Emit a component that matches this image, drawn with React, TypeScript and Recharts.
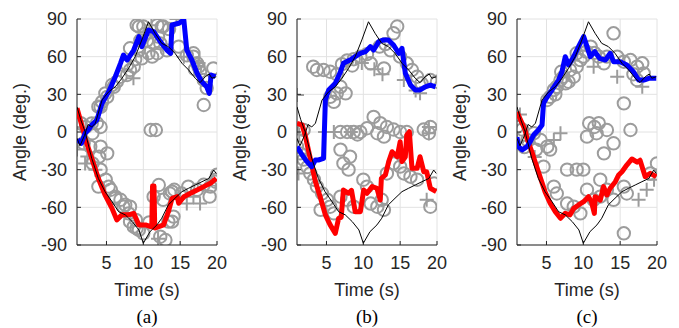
import React from 'react';
import { ComposedChart, Line, Scatter, XAxis, YAxis, CartesianGrid } from 'recharts';

// shared reference (thin black) curves, [time, angle]
const truthUpper = [
  [1, -5], [1.4, -11], [2.0, -3], [2.5, 6], [3.0, 4], [3.5, 7], [4.4, 25.5], [5.3, 32], [6.2, 36],
  [7.1, 42.8], [8, 50.7], [8.9, 60], [9.8, 73.3], [10.7, 87.8], [11.6, 78.6], [12.5, 70.6],
  [13.4, 68], [14.3, 62.7], [15.25, 54.7], [16.15, 49.4], [17.05, 42.8], [17.7, 39.3],
  [18.4, 44], [18.95, 46.2], [19.3, 42.8], [19.9, 44],
];
const truthLower = [
  [1, 20], [1.5, 10], [2.1, 0.2], [3, -21], [3.9, -37], [4.8, -47.5], [5.75, -55.5], [6.65, -63.5],
  [7.55, -66], [8.5, -71.4], [9.4, -78], [10, -88.6], [10.9, -79.4], [11.85, -74], [12.5, -68.7],
  [13.4, -58], [14.3, -52.8], [15.25, -47.5], [16.15, -44.8], [17.05, -42.2], [17.95, -39.6],
  [18.9, -37], [19.55, -30.3], [19.9, -33],
];

// panel (a)
const blueA = [
  [1.1, -6], [1.6, -9], [2.1, -1], [2.7, 3], [3.0, 5.6], [3.7, 9.6], [4.4, 22.9], [5.3, 32], [6.2, 44],
  [6.9, 54.7], [7.3, 61.3], [7.8, 57.3], [8.7, 65.3], [9.4, 76], [9.8, 68], [10.7, 81.2], [11.4, 80],
  [12.3, 72], [13.2, 65.3], [13.7, 62.7], [13.9, 85.2], [14.8, 86.6], [15.5, 89.2], [15.9, 65.3],
  [16.6, 57.3], [17.3, 46.8], [17.95, 40], [18.6, 36], [18.95, 30.8], [19.2, 45.4], [19.8, 44],
];
const redA = [
  [1, 19], [1.9, 0.2], [2.1, -5], [3, -21], [3.9, -37], [4.8, -50], [5.75, -60.8], [6.4, -70],
  [7.1, -66], [8, -66], [8.7, -64.8], [9.4, -74], [10.3, -74], [11.15, -75.5], [11.25, -43],
  [11.45, -43], [11.55, -76.5], [12.75, -74], [13.4, -63.5], [13.9, -52.8], [14.6, -51.5],
  [14.8, -56.8], [15.5, -51.5], [16.4, -48.8], [17.3, -46.2], [18.2, -43.5], [19.1, -40.9], [19.9, -36.9],
];
const circlesA = [
  [9.1, 85], [10, 84], [11.9, 85], [12.7, 84], [13.5, 82], [9.6, 73], [10.5, 73], [11.4, 70.6],
  [12.3, 70.6], [9.4, 65], [10.7, 62.7], [11.9, 62.7], [13.2, 65], [15.9, 61], [16.8, 60], [17.3, 54.7],
  [17.7, 48], [18.2, 41.4], [18.6, 35], [18.2, 21.5], [19.5, 50.7], [8.7, 52], [8.2, 49.4], [7.8, 45.4],
  [6.9, 44], [6.4, 40], [6, 36], [5.1, 28], [4.4, 24], [4.2, 20], [8.9, 58], [10.2, 78], [12, 76],
  [14.8, 68], [17, 50], [9.4, 83.9], [12.5, 83.9], [8.2, 66.7], [7.8, 53.4], [9.8, 58.7], [11.2, 60],
  [16.8, 62.7], [17.5, 52], [5.75, 37.4], [4.85, 30.8], [3.9, 20.2], [3, 6.9],
  [11, 1.6], [11.7, 1.6],
  [1, -1], [1.5, 7], [2.2, 4], [3.1, -1], [3.7, 7], [4.2, 4], [1.9, -9], [2.8, -11.7], [4.2, -11.7],
  [5.1, -17], [4, -19.6], [3.1, -25], [4.2, -30], [4.9, -38], [5.6, -46], [6.2, -51.5], [6.9, -54],
  [7.3, -59.5], [8.2, -59.5], [8, -64.8], [8.7, -75.4], [9.4, -78], [10, -80.7], [11.4, -51.5],
  [12.7, -54], [13.6, -49], [14.2, -46], [15.2, -49], [16.1, -43.5], [17.3, -46], [18.2, -42],
  [19.1, -43.5], [19.8, -38], [20, -34], [19, -51.5], [12.3, -83.4], [13, -86], [14.1, -67.4],
  [13.4, -71.4], [9, -70], [10.8, -72], [3.9, -43.5], [5.3, -43.5], [6.2, -52.8], [7.55, -58],
  [8.2, -71.4], [9.1, -76.7], [12.1, -42.2], [13.9, -47.5], [13.9, -71.4], [19.8, -39.6],
];
const plusesA = [
  [14.5, 90], [11.1, 85], [8.66, 42.8], [15.5, 60], [17.5, 55], [1, -14], [2.4, -19.6], [2.1, -25],
  [15.9, -57], [16.8, -51.5], [17.7, -57], [12, -85], [15, -51.5], [3.5, -30],
];

// panel (b)
const blueB = [
  [1, -11.7], [1.7, -18.3], [2.35, -23.6], [3, -27.6], [3.5, -22.3], [3.9, -22.3], [4.6, -21],
  [4.85, 25.5], [5.3, 33.5], [6.2, 38.8], [6.9, 48], [7.3, 54.7], [8.2, 57.3], [8.9, 60], [9.6, 62.7],
  [10.3, 64], [10.95, 68], [11.4, 65.3], [12.1, 72], [12.75, 73.3], [13.4, 73.3], [14.1, 69.3],
  [14.8, 62.7], [15.25, 66.6], [15.7, 46.8], [16.4, 37.4], [17.05, 33.5], [17.7, 33.5], [18.4, 36],
  [19.1, 37.4], [19.8, 36],
];
const redB = [
  [1, 6.9], [1.7, 5.6], [2.1, -2.4], [2.8, -21], [3.5, -39.6], [4.2, -52.8], [4.85, -66], [5.5, -74],
  [6.2, -80.7], [6.65, -68.7], [7.0, -68], [7.3, -46.2], [8, -48.8], [8.4, -46.5], [8.9, -63.5],
  [9.6, -63.5], [10.05, -46.2], [10.5, -48.8], [11.2, -43.5], [11.85, -44.8], [12.3, -54.2],
  [12.45, -36.9], [13, -34.2], [13.45, -23.6], [13.9, -15.7], [14.6, -19.7], [15, -7.7],
  [15.25, -23.6], [15.7, -19.7], [15.9, -2.4], [16.25, 0.2], [16.6, -28.9], [17.3, -28.9],
  [17.7, -19.7], [18.2, -31.6], [18.6, -31.6], [19.1, -44.8], [19.9, -47.5],
];
const circlesB = [
  [3.7, 49.4], [4.6, 49.4], [5.5, 48], [3.2, 52], [6.4, 46], [7.1, 54], [7.8, 57], [8.7, 58], [9.6, 60],
  [10.5, 62], [6.9, 36], [7.6, 30.8], [6.4, 30.8], [5.5, 28], [6, 24], [8.5, 53], [12.8, 50.7],
  [11, 54.7], [14.6, 84], [14.1, 78.6], [13.7, 65], [15, 60], [15.9, 54.7], [16.6, 49.4], [17.3, 44],
  [17.9, 38.8], [19.1, 41.4], [20, 40], [12.2, 68], [13, 70],
  [1.9, 1.6], [6.9, 0], [7.8, 0], [8.7, 0], [9.6, 0], [10.5, 3], [11.4, 12], [12.3, 7], [13.2, 4],
  [14.1, 2], [15, 0], [15.9, 0], [18.2, 2], [19.1, 4], [18.9, -1], [11.9, -1], [12.8, -3.7], [9.2, -2],
  [1, -11.7], [1.45, -17], [1.9, -22], [2.4, -28], [2.8, -33], [3.3, -38], [3.7, -43.5], [4.4, -49],
  [5.1, -54], [4.2, -62], [5.5, -59.5], [6, -64.8], [6.9, -51.5], [7.8, -54], [8.7, -59.5], [7.3, -25],
  [8, -30], [8.2, -19.6], [6.9, -14], [10, -38], [10.5, -43.5], [11, -57], [11.9, -59.5], [12.8, -62],
  [12.5, -54], [13.2, -33], [14.1, -25], [15, -27.6], [15.5, -33], [16.4, -35.6], [17.3, -38],
  [19.1, -59.5], [19.6, -41],
];
const plusesB = [
  [1, 29.5], [15.5, 41.4], [17.7, 30.8], [17.1, 33], [11.5, 50], [12.6, 46], [9.8, 55], [4.8, 0],
  [6, 0], [8.3, 0], [18.9, 4], [18.9, -1], [1.2, -33], [18.6, -54], [1.3, -2],
];

// panel (c)
const blueC = [
  [1, -4], [1.2, -11.7], [1.7, -14.3], [2.35, -11.7], [2.8, -7.7], [3.25, -2.4], [3.9, 1.6], [4.4, 5.6],
  [4.6, 22.9], [5.1, 28.1], [5.75, 33.5], [6.65, 41.4], [7.1, 48], [7.55, 60], [8, 53.4], [8.7, 60],
  [9.35, 68], [10.05, 76], [10.5, 68], [10.95, 60], [11.55, 64], [12.2, 58.7], [13, 57.3], [13.65, 62.7],
  [14.1, 56], [15, 56], [15.9, 53.4], [16.8, 48], [17.5, 41.4], [18.2, 41.4], [18.9, 42.8], [19.9, 42.8],
];
const redC = [
  [1, 16], [2.1, 1.6], [2.35, -5], [3, -15.7], [3.9, -31.6], [4.8, -47.5], [5.5, -56.8], [6.2, -63.5],
  [6.9, -68.7], [7.55, -64.8], [8.2, -66], [8.7, -60.8], [9.35, -58.1], [10.05, -55.5], [10.7, -51.5],
  [11.1, -55.5], [11.5, -64.8], [11.6, -51.5], [12.3, -54.2], [12.75, -43.5], [13.2, -50.2],
  [13.65, -44.8], [14.35, -39.6], [14.8, -34.2], [15.25, -31.6], [15.9, -26.3], [16.6, -21.5],
  [17.3, -24], [17.7, -22.5], [18.4, -35.6], [19.1, -32.9], [19.9, -35.6],
];
const circlesC = [
  [5.1, 25.5], [5.5, 28], [6, 33.5], [6.4, 36], [6.9, 41.4], [7.3, 44], [7.6, 38.8], [8.2, 49.4],
  [8.7, 44], [9.1, 52], [9.6, 57.3], [10, 60], [9.1, 62.7], [11, 68], [12.1, 60], [12.8, 54.7],
  [13.2, 60], [14.1, 78.6], [14.6, 60], [15.5, 56], [16.4, 57.3], [17.3, 52], [18, 54.7], [18.2, 46.7],
  [17.3, 41.4], [15.5, 22.8], [11.5, 63], [7, 48], [6.2, 30], [8, 40], [10.4, 64], [16.8, 46],
  [1, 4], [1.7, 2], [2.4, -6.4], [3.3, -1], [4.2, -6.4], [5.1, -11.7], [10.8, 7], [11.5, 4], [12.1, 7],
  [11.8, -1], [10.5, -3.7], [13.2, 1.6], [14.1, -9], [16.4, 1.6], [12.8, -17], [2, -12], [3.6, -14],
  [5.5, -14], [4.6, -27.6], [7.8, -30], [9.1, -30], [10, -30], [6, -43.5], [6.4, -49], [7.8, -57],
  [8.7, -59.5], [9.6, -64.8], [10.5, -46], [11.4, -54], [12.3, -51.5], [13.2, -46], [14.1, -54],
  [15.5, -43.5], [15.9, -49], [19.1, -33], [20, -25], [15.5, -80.7], [12.3, -38],
];
const plusesC = [
  [1.4, 14], [1, -8], [6, -6.4], [6.9, -1], [11.4, 52], [14.6, 44], [18, 36], [19.6, -38], [17.5, -54],
  [18.6, -46], [3.4, -20],
];

const xTicks = [5, 10, 15, 20];
const yTicks = [-90, -60, -30, 0, 30, 60, 90];

const toPts = (arr: number[][]) => arr.map(([t, v]) => ({ t, v }));

const GREY = '#9c9c9c';
const AX = '#262626';
const SANS = '"Liberation Sans", Arial, Helvetica, sans-serif';

const CircleMark = (props: any) => (
  <circle cx={props.cx} cy={props.cy} r={6.2} fill="none" stroke={GREY} strokeWidth={2} />
);
const PlusMark = (props: any) => (
  <path
    d={`M${props.cx - 7},${props.cy}H${props.cx + 7}M${props.cx},${props.cy - 7}V${props.cy + 7}`}
    stroke={GREY}
    strokeWidth={2}
    fill="none"
  />
);

interface PanelProps {
  left: number;
  letter: string;
  blue: number[][];
  red: number[][];
  circles: number[][];
  pluses: number[][];
}

const Panel = ({ left, letter, blue, red, circles, pluses }: PanelProps) => {
  const cx = left + 147;
  return (
    <>
      <div style={{ position: 'absolute', left, top: 0 }}>
        <ComposedChart width={230} height={328} margin={{ top: 19, right: 13, bottom: 53, left: 0 }}>
          <CartesianGrid stroke="#e2e2e2" strokeWidth={1} />
          <XAxis
            dataKey="t"
            type="number"
            domain={[1, 20]}
            ticks={xTicks}
            height={30}
            tickSize={-4}
            tickMargin={15}
            stroke={AX}
            tick={{ fill: AX, fontSize: 18, fontFamily: SANS }}
            allowDataOverflow
          />
          <YAxis
            dataKey="v"
            type="number"
            domain={[-90, 90]}
            ticks={yTicks}
            width={77}
            tickSize={-4}
            tickMargin={14}
            stroke={AX}
            tick={{ fill: AX, fontSize: 18, fontFamily: SANS }}
            allowDataOverflow
          />
          <Scatter data={toPts(circles)} shape={CircleMark} zIndex={300} isAnimationActive={false} />
          <Scatter data={toPts(pluses)} shape={PlusMark} zIndex={300} isAnimationActive={false} />
          <Line data={toPts(red)} dataKey="v" stroke="#ff0000" strokeWidth={5} dot={false}
            strokeLinejoin="round" zIndex={650} isAnimationActive={false} />
          <Line data={toPts(blue)} dataKey="v" stroke="#0000ff" strokeWidth={5} dot={false}
            strokeLinejoin="round" zIndex={650} isAnimationActive={false} />
          <Line data={toPts(truthUpper)} dataKey="v" stroke="#000" strokeWidth={1} dot={false}
            zIndex={700} isAnimationActive={false} />
          <Line data={toPts(truthLower)} dataKey="v" stroke="#000" strokeWidth={1} dot={false}
            zIndex={700} isAnimationActive={false} />
        </ComposedChart>
      </div>
      <div style={{
        position: 'absolute', left: cx - 60, width: 120, top: 280, textAlign: 'center',
        fontFamily: SANS, fontSize: 18, color: AX, lineHeight: '20px',
      }}>
        Time (s)
      </div>
      <div style={{
        position: 'absolute', left: cx - 30, width: 60, top: 306, textAlign: 'center',
        fontFamily: '"Liberation Serif", "Times New Roman", serif', fontSize: 19, color: '#000',
        lineHeight: '22px',
      }}>
        ({letter})
      </div>
      <div style={{
        position: 'absolute', left: left + 20 - 70, width: 140, top: 132 - 10, textAlign: 'center',
        fontFamily: SANS, fontSize: 18, color: AX, lineHeight: '20px', transform: 'rotate(-90deg)',
      }}>
        Angle (deg.)
      </div>
    </>
  );
};

export default function App() {
  return (
    <div style={{ position: 'absolute', left: 0, top: 0, width: 679, height: 328, background: '#fff', overflow: 'hidden' }}>
      <Panel left={0} letter="a" blue={blueA} red={redA} circles={circlesA} pluses={plusesA} />
      <Panel left={220} letter="b" blue={blueB} red={redB} circles={circlesB} pluses={plusesB} />
      <Panel left={440} letter="c" blue={blueC} red={redC} circles={circlesC} pluses={plusesC} />
    </div>
  );
}
